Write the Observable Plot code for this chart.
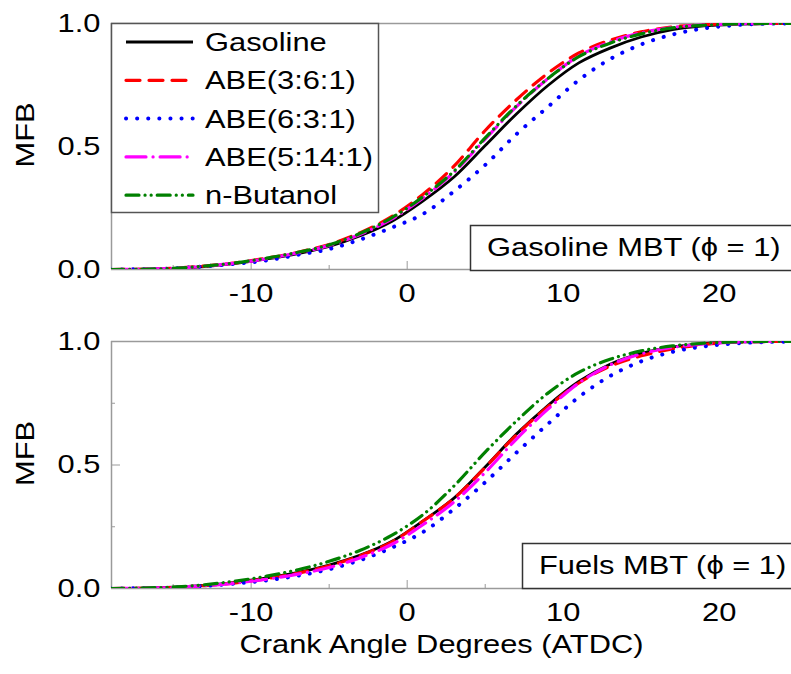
<!DOCTYPE html>
<html><head><meta charset="utf-8">
<script src="https://cdn.jsdelivr.net/npm/d3@7"></script>
<script src="https://cdn.jsdelivr.net/npm/@observablehq/plot@0.6"></script>
<style>
body{margin:0;background:#fff;}
#chart{width:791px;height:674px;position:relative;overflow:hidden;font-family:"Liberation Sans",Arial,sans-serif;}
#chart svg{display:block;}
</style></head><body><div id="chart"></div>
<script>
// ---- data ----
const crankAngle = [-19,-17,-15,-13,-11,-9,-7,-5,-3,-1,1,3,5,7,9,11,13,15,17,19,21,23,25];
const seriesNames = ["Gasoline","ABE(3:6:1)","ABE(6:3:1)","ABE(5:14:1)","n-Butanol"];
const seriesColors = ["#000000","#ff0000","#0000ff","#ff00ff","#008000"];
const seriesDash = ["none","14,9","0.1,11","20,7,0.1,7","13,6,0.1,6,0.1,6"];
const seriesWidth = [2.8, 3.2, 4, 3.2, 3.2];

// Panel 1: Gasoline MBT (phi = 1)
const topGasoline = [0,0.001,0.004,0.012,0.025,0.043,0.065,0.094,0.137,0.195,0.278,0.376,0.504,0.632,0.747,0.84,0.9,0.945,0.975,0.99,0.997,1,1];
const topABE361   = [0,0.001,0.005,0.014,0.027,0.046,0.07,0.102,0.15,0.215,0.305,0.42,0.565,0.69,0.797,0.88,0.932,0.966,0.986,0.995,0.999,1,1];
const topABE631   = [0,0.001,0.004,0.013,0.023,0.037,0.06,0.083,0.122,0.17,0.225,0.318,0.425,0.55,0.66,0.77,0.855,0.915,0.955,0.98,0.993,0.999,1];
const topABE5141  = [0,0.001,0.005,0.013,0.026,0.044,0.068,0.098,0.143,0.205,0.29,0.395,0.53,0.662,0.775,0.868,0.925,0.962,0.984,0.994,0.998,1,1];
const topButanol  = [0,0.001,0.005,0.014,0.027,0.046,0.07,0.1,0.147,0.21,0.295,0.4,0.535,0.665,0.775,0.865,0.92,0.958,0.982,0.993,0.998,1,1];

// Panel 2: Fuels MBT (phi = 1)
const botGasoline = [0,0.001,0.005,0.013,0.025,0.043,0.065,0.095,0.135,0.19,0.273,0.366,0.492,0.625,0.74,0.838,0.908,0.952,0.977,0.991,0.998,1,1];
const botABE361   = [0,0.001,0.004,0.012,0.023,0.04,0.062,0.092,0.133,0.188,0.272,0.365,0.49,0.622,0.735,0.832,0.9,0.942,0.97,0.988,0.997,1,1];
const botABE631   = [0,0.001,0.003,0.01,0.02,0.033,0.052,0.078,0.115,0.165,0.228,0.322,0.43,0.55,0.665,0.775,0.86,0.92,0.958,0.98,0.992,0.998,1];
const botABE5141  = [0,0.001,0.004,0.011,0.022,0.038,0.058,0.085,0.125,0.178,0.258,0.35,0.47,0.605,0.725,0.832,0.905,0.95,0.976,0.99,0.997,1,1];
const botButanol  = [0,0.002,0.006,0.015,0.03,0.05,0.076,0.11,0.155,0.215,0.298,0.415,0.552,0.678,0.79,0.875,0.928,0.962,0.982,0.993,0.998,1,1];

const xDomain = [-18.95, 24.63];
const yMajorTicks = [0, 0.5, 1];
const xLabelTicks = [-10, 0, 10, 20];
const xMinorTicks = [-15, -5, 5, 15];
const panelLabels = ["Gasoline MBT (\u03D5 = 1)", "Fuels MBT (\u03D5 = 1)"];

const topSeries = [topGasoline, topABE361, topABE631, topABE5141, topButanol];
const botSeries = [botGasoline, botABE361, botABE631, botABE5141, botButanol];

function rowsOf(arrs) {
  return arrs.flatMap((vals, i) => vals.map((v, j) => ({x: crankAngle[j], y: v, s: seriesNames[i], k: i})));
}

const FONT = '"Liberation Sans", Arial, sans-serif';
const FS = 25.5;          // font size
const STRETCH = 1.21;     // reference glyphs are wider than Arial
const GRAY = "#9a9a9a";

function panel({arrs, height, marginTop, marginBottom, withXLabel}) {
  const rows = rowsOf(arrs);
  const marks = [
    Plot.ruleY([0, 1], {stroke: GRAY, strokeWidth: 1.5}),
    Plot.ruleX([xDomain[0]], {stroke: GRAY, strokeWidth: 1.5}),
    Plot.axisY({ticks: yMajorTicks, label: null, tickSize: 0, tickPadding: 11, tickFormat: d => d.toFixed(1), fontSize: FS, fill: "#000"}),
    Plot.axisY({ticks: [0.5], label: null, tickSize: 9, dx: 9, tickFormat: () => "", stroke: GRAY}),
    Plot.axisY({ticks: [0.25, 0.75], label: null, tickSize: 4, dx: 4, tickFormat: () => "", stroke: GRAY}),
    Plot.axisX({ticks: xLabelTicks, label: null, tickSize: 0, tickPadding: 14, tickFormat: d => String(d), fontSize: FS, fill: "#000"}),
    Plot.axisX({ticks: xLabelTicks, label: null, tickSize: 8, dy: -8, tickFormat: () => "", stroke: GRAY}),
    Plot.axisX({ticks: xMinorTicks, label: null, tickSize: 4, dy: -4, tickFormat: () => "", stroke: GRAY}),
    Plot.text(["MFB"], {frameAnchor: "left", dx: -86, dy: 21, rotate: -90, fontSize: FS, fill: "#000"})
  ];
  seriesNames.forEach((name, i) => {
    marks.push(Plot.line(rows.filter(r => r.k === i), {
      x: "x", y: "y", stroke: seriesColors[i], strokeWidth: seriesWidth[i],
      strokeDasharray: seriesDash[i] === "none" ? null : seriesDash[i],
      strokeLinecap: i === 0 ? "butt" : "round",
      curve: "catmull-rom", clip: true
    }));
  });
  if (withXLabel) {
    marks.push(Plot.text(["Crank Angle Degrees (ATDC)"], {frameAnchor: "bottom", dx: -10, dy: 64, fontSize: FS, fill: "#000"}));
  }
  return Plot.plot({
    width: 791, height, marginLeft: 111, marginRight: 0, marginTop, marginBottom,
    x: {domain: xDomain, label: null}, y: {domain: [0, 1], label: null},
    style: {fontFamily: FONT, fontSize: FS + "px", color: "#000", background: "transparent", overflow: "visible"},
    marks
  });
}

const chart = document.getElementById("chart");
const p1 = panel({arrs: topSeries, height: 316, marginTop: 23, marginBottom: 47, withXLabel: false});
const p2 = panel({arrs: botSeries, height: 358, marginTop: 25, marginBottom: 86, withXLabel: true});
chart.appendChild(p1);
chart.appendChild(p2);

// annotation boxes
function annot(svg, text, x, y0, y1) {
  const g = d3.select(svg).append("g");
  g.append("rect").attr("x", x + 0.5).attr("y", y0 + 0.5).attr("width", 400).attr("height", y1 - y0)
    .attr("fill", "#fff").attr("stroke", "#333").attr("stroke-width", 1.5);
  g.append("text").attr("x", x + 17).attr("y", (y0 + y1) / 2).attr("dy", "0.35em")
    .attr("text-anchor", "start")
    .attr("font-size", FS).attr("font-family", FONT).attr("fill", "#000").text(text);
}
annot(p1, panelLabels[0], 470, 225, 270);
annot(p2, panelLabels[1], 522, 227, 272);

// legend (top panel)
const lg = d3.select(p1).append("g");
lg.append("rect").attr("x", 111.5).attr("y", 23.5).attr("width", 267).attr("height", 189)
  .attr("fill", "#fff").attr("stroke", "#555").attr("stroke-width", 1.5);
seriesNames.forEach((name, i) => {
  const cy = 42 + i * 38.3;
  lg.append("line").attr("x1", 126).attr("x2", 193).attr("y1", cy).attr("y2", cy)
    .attr("stroke", seriesColors[i]).attr("stroke-width", seriesWidth[i])
    .attr("stroke-dasharray", seriesDash[i] === "none" ? null : seriesDash[i])
    .attr("stroke-linecap", i === 0 ? "butt" : "round");
  lg.append("text").attr("x", 205).attr("y", cy).attr("dy", "0.35em")
    .attr("text-anchor", "start")
    .attr("font-size", FS).attr("font-family", FONT).attr("fill", "#000").text(name);
});

// widen glyphs along the text direction to match the reference lettering
d3.selectAll("#chart text").each(function() {
  if (!this.textContent) return;
  const b = this.getBBox();
  const anchor = getComputedStyle(this).getPropertyValue("text-anchor");
  const ax = anchor === "end" ? b.x + b.width : anchor === "middle" ? b.x + b.width / 2 : b.x;
  const t = this.getAttribute("transform") || "";
  this.setAttribute("transform", `${t} translate(${ax},0) scale(${STRETCH},1) translate(${-ax},0)`);
});
</script></body></html>
